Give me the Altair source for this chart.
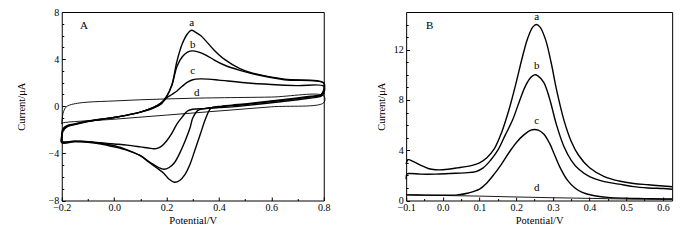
import altair as alt
import pandas as pd

FONT = "Liberation Serif"

# ---------------- Panel A : cyclic voltammograms (E in V, I in uA) -------------
A_a_E = [-0.2, -0.195, -0.18, -0.15, -0.1, -0.05, 0.0, 0.05, 0.1, 0.15, 0.18, 0.2, 0.22, 0.24, 0.26, 0.28, 0.295, 0.31,
         0.33, 0.35, 0.38, 0.42, 0.48, 0.55, 0.65, 0.8,
         0.8, 0.79, 0.75, 0.7, 0.6, 0.5, 0.45, 0.4, 0.37, 0.35, 0.33, 0.31, 0.29, 0.27, 0.25, 0.23, 0.21, 0.19, 0.16,
         0.13, 0.1, 0.05, 0.0, -0.05, -0.1, -0.15, -0.2, -0.2]
A_a_I = [-2.9, -2.1, -1.75, -1.55, -1.3, -1.12, -0.95, -0.75, -0.5, -0.1, 0.3, 0.84, 1.8, 3.85, 5.3, 6.15, 6.45, 6.3,
         6.0, 5.55, 4.8, 4.0, 3.2, 2.7, 2.3, 2.0,
         1.4, 1.0, 0.85, 0.7, 0.45, 0.2, 0.1, -0.02, -0.15, -1.0, -2.3, -3.6, -4.9, -5.8, -6.3, -6.45, -6.2, -5.7, -5.2,
         -4.7, -4.2, -3.75, -3.45, -3.2, -3.05, -3.0, -3.05, -2.9]

A_b_E = [-0.2, -0.195, -0.18, -0.15, -0.1, -0.05, 0.0, 0.05, 0.1, 0.15, 0.18, 0.2, 0.22, 0.24, 0.26, 0.28, 0.3, 0.32,
         0.35, 0.38, 0.42, 0.48, 0.55, 0.65, 0.8,
         0.8, 0.79, 0.75, 0.7, 0.6, 0.5, 0.45, 0.4, 0.37, 0.34, 0.32, 0.3, 0.29, 0.27, 0.25, 0.23, 0.21, 0.19, 0.17,
         0.14, 0.1, 0.05, 0.0, -0.05, -0.1, -0.15, -0.2, -0.2]
A_b_I = [-2.7, -2.0, -1.7, -1.52, -1.28, -1.1, -0.95, -0.75, -0.5, -0.1, 0.3, 0.8, 1.75, 3.4, 4.2, 4.6, 4.7, 4.62,
         4.35, 3.95, 3.5, 3.05, 2.65, 2.25, 1.95,
         1.3, 0.95, 0.8, 0.65, 0.4, 0.15, 0.05, -0.05, -0.12, -0.22, -0.35, -1.0, -1.8, -3.0, -4.0, -4.8, -5.2, -5.35,
         -5.2, -4.8, -4.2, -3.7, -3.35, -3.15, -3.0, -2.95, -3.0, -2.7]

A_c_E = [-0.2, -0.195, -0.18, -0.15, -0.1, -0.05, 0.0, 0.05, 0.1, 0.15, 0.18, 0.2, 0.22, 0.24, 0.26, 0.28, 0.3, 0.33,
         0.36, 0.4, 0.5, 0.6, 0.7, 0.8,
         0.8, 0.79, 0.75, 0.7, 0.6, 0.5, 0.45, 0.4, 0.35, 0.3, 0.28, 0.26, 0.24, 0.22, 0.2, 0.18, 0.16, 0.14, 0.1,
         0.05, 0.0, -0.05, -0.1, -0.15, -0.2, -0.2]
A_c_I = [-2.5, -1.9, -1.65, -1.5, -1.25, -1.1, -0.95, -0.75, -0.5, -0.15, 0.2, 0.7, 1.0, 1.3, 1.7, 2.05, 2.25, 2.32,
         2.3, 2.22, 2.0, 1.85, 1.75, 1.7,
         1.1, 0.85, 0.7, 0.55, 0.3, 0.05, -0.05, -0.12, -0.2, -0.25, -0.4, -0.9, -1.5, -2.3, -2.95, -3.4, -3.6, -3.58,
         -3.45, -3.3, -3.2, -3.1, -3.0, -3.0, -3.1, -2.5]

A_d_E = [-0.2, -0.195, -0.185, -0.17, -0.14, -0.1, 0.0, 0.1, 0.2, 0.3, 0.4, 0.6, 0.8,
         0.8, 0.6, 0.4, 0.2, 0.0, -0.2, -0.2]
A_d_I = [-1.5, -0.6, -0.1, 0.1, 0.25, 0.35, 0.45, 0.55, 0.62, 0.68, 0.72, 0.78, 0.88,
         0.3, -0.05, -0.4, -0.75, -1.1, -1.45, -1.5]

A_lab_text = ["a", "b", "c", "d", "A"]
A_lab_E = [0.296, 0.3, 0.3, 0.315, -0.115]
A_lab_I = [7.1, 5.2, 2.95, 1.12, 6.8]

# ---------------- Panel B : differential pulse voltammograms -----------------
B_a_E = [-0.1, -0.095, -0.08, -0.06, -0.04, -0.02, 0.0, 0.04, 0.08, 0.1, 0.12, 0.14, 0.16, 0.18, 0.2, 0.215, 0.23,
         0.245, 0.255, 0.265, 0.28, 0.295, 0.31, 0.33, 0.35, 0.37, 0.4, 0.44, 0.48, 0.52, 0.56, 0.6, 0.625]
B_a_I = [2.9, 3.25, 3.1, 2.8, 2.55, 2.45, 2.45, 2.6, 2.8, 3.0, 3.4, 4.1, 5.4, 7.2, 9.4, 11.2, 12.8,
         13.8, 14.0, 13.8, 12.8, 11.0, 8.8, 6.4, 4.7, 3.6, 2.6, 1.9, 1.55, 1.35, 1.25, 1.15, 1.1]

B_b_E = [-0.1, -0.098, -0.09, -0.06, -0.02, 0.02, 0.06, 0.09, 0.11, 0.13, 0.15, 0.17, 0.19, 0.21, 0.225, 0.24, 0.25,
         0.26, 0.275, 0.29, 0.31, 0.33, 0.35, 0.37, 0.4, 0.44, 0.48, 0.52, 0.56, 0.6, 0.625]
B_b_I = [1.7, 2.1, 2.15, 2.1, 2.1, 2.15, 2.2, 2.3, 2.6, 3.2, 4.0, 5.2, 6.4, 8.0, 9.1, 9.8, 10.0,
         9.9, 9.4, 8.2, 6.0, 4.3, 3.2, 2.5, 1.9, 1.5, 1.3, 1.1, 1.0, 0.95, 0.9]

B_c_E = [-0.1, -0.05, 0.0, 0.04, 0.07, 0.1, 0.12, 0.14, 0.16, 0.18, 0.2, 0.22, 0.24, 0.25, 0.26, 0.275, 0.29, 0.305,
         0.32, 0.34, 0.36, 0.38, 0.41, 0.45, 0.5, 0.55, 0.6, 0.625]
B_c_I = [0.45, 0.43, 0.42, 0.45, 0.6, 0.9, 1.4, 2.1, 2.9, 3.8, 4.6, 5.2, 5.6, 5.65, 5.6, 5.3, 4.6, 3.6,
         2.6, 1.6, 1.0, 0.65, 0.4, 0.25, 0.18, 0.15, 0.12, 0.12]

B_d_E = [-0.1, 0.0, 0.1, 0.2, 0.3, 0.4, 0.5, 0.6, 0.625]
B_d_I = [0.45, 0.4, 0.35, 0.28, 0.22, 0.17, 0.12, 0.1, 0.1]

B_lab_text = ["a", "b", "c", "d", "B"]
B_lab_E = [0.256, 0.256, 0.256, 0.256, -0.036]
B_lab_I = [14.6, 10.7, 6.35, 1.0, 13.9]


def curves_frame(curves):
    rows = []
    for name, (E, I) in curves.items():
        for k, (e, i) in enumerate(zip(E, I)):
            rows.append({"curve": name, "k": k, "E": e, "I": i})
    return pd.DataFrame(rows)


def labels_frame(texts, E, I):
    return pd.DataFrame({"t": texts, "E": E, "I": I})


def axis_common():
    return dict(labelFont=FONT, labelFontSize=10, labelColor="black", titleFont=FONT, titleFontSize=10.5,
                titleFontWeight="normal", titleColor="black", tickColor="black", domain=False,
                labelFlush=False, grid=False)


def panel(df, lab, xdom, ydom, xmaj, xmin, ymaj, ymin, xfmt, yfmt, w, h, ytitlex):
    xs = alt.Scale(domain=xdom, nice=False, zero=False)
    ys = alt.Scale(domain=ydom, nice=False, zero=False)
    lines = alt.Chart(df).mark_line(color="black", interpolate="catmull-rom").encode(
        x=alt.X("E:Q", scale=xs, title="Potential/V",
                axis=alt.Axis(orient="bottom", values=xmaj, format=xfmt, tickSize=3.5, offset=-3.5,
                              labelPadding=2, titleX=w / 2, titleY=23.5, titleBaseline="middle",
                              titleAlign="center", **axis_common())),
        y=alt.Y("I:Q", scale=ys, title="Current/μA",
                axis=alt.Axis(orient="left", values=ymaj, format=yfmt, tickSize=3.5, offset=-3.5,
                              labelPadding=3, titleX=ytitlex, titleY=h / 2, titleBaseline="middle",
                              titleAlign="center", titleAngle=270, **axis_common())),
        detail="curve:N",
        order="k:Q",
        strokeWidth=alt.condition(alt.datum.curve == "d", alt.value(0.9), alt.value(1.4)),
    )
    minor = alt.Chart(df).mark_point(opacity=0).encode(
        x=alt.X("E:Q", scale=xs, title=None,
                axis=alt.Axis(orient="bottom", values=xmin, labels=False, tickSize=2, offset=-2, **axis_common())),
        y=alt.Y("I:Q", scale=ys, title=None,
                axis=alt.Axis(orient="left", values=ymin, labels=False, tickSize=2, offset=-2, **axis_common())),
    )
    text = alt.Chart(lab).mark_text(font=FONT, fontSize=11, color="black").encode(
        x=alt.X("E:Q", scale=xs, axis=None),
        y=alt.Y("I:Q", scale=ys, axis=None),
        text="t:N",
    )
    return alt.layer(lines, minor, text).resolve_axis(x="independent", y="independent").properties(
        width=w, height=h)


dfA = curves_frame({"a": (A_a_E, A_a_I), "b": (A_b_E, A_b_I), "c": (A_c_E, A_c_I), "d": (A_d_E, A_d_I)})
dfB = curves_frame({"a": (B_a_E, B_a_I), "b": (B_b_E, B_b_I), "c": (B_c_E, B_c_I), "d": (B_d_E, B_d_I)})

chartA = panel(dfA, labels_frame(A_lab_text, A_lab_E, A_lab_I), [-0.2, 0.8], [-8, 8],
               [-0.2, 0.0, 0.2, 0.4, 0.6, 0.8], [-0.1, 0.1, 0.3, 0.5, 0.7],
               [-8, -4, 0, 4, 8], [-7, -6, -5, -3, -2, -1, 1, 2, 3, 5, 6, 7],
               ".1f", "d", 262, 188.5, -43.5)
chartB = panel(dfB, labels_frame(B_lab_text, B_lab_E, B_lab_I), [-0.1, 0.625], [0, 15],
               [-0.1, 0.0, 0.1, 0.2, 0.3, 0.4, 0.5, 0.6], [-0.05, 0.05, 0.15, 0.25, 0.35, 0.45, 0.55],
               [0, 4, 8, 12], [1, 2, 3, 5, 6, 7, 9, 10, 11, 13, 14, 15],
               ".1f", "d", 266, 188.5, -28.5)

chart = alt.hconcat(chartA, chartB, spacing=44.4).properties(
    padding={"left": 7.75, "top": -2, "right": 5, "bottom": 5},
).configure_view(stroke="black", strokeWidth=1)

chart.save("out.html", embed_options={"renderer": "svg", "actions": False})
